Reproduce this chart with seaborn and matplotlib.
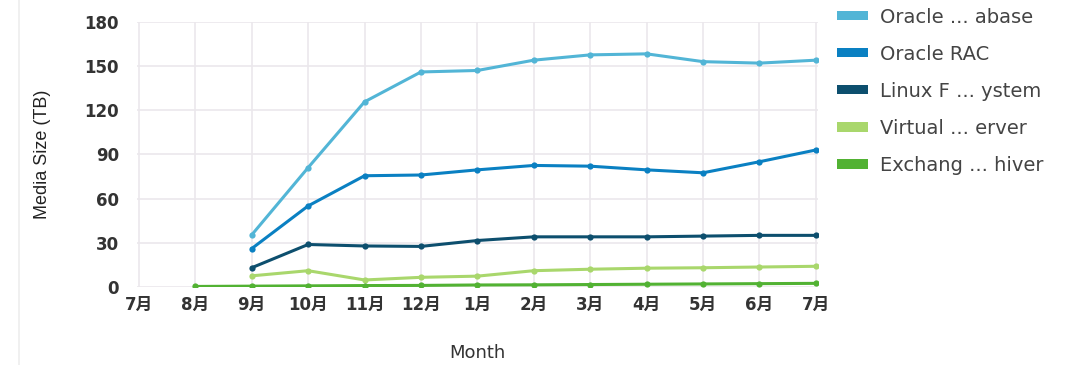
import numpy as np
import pandas as pd
import matplotlib
matplotlib.use("Agg")
import matplotlib.pyplot as plt
from matplotlib.patches import Patch
import seaborn as sns

months = ["7月", "8月", "9月", "10月", "11月", "12月", "1月", "2月", "3月", "4月", "5月", "6月", "7月"]
series_names = ["Oracle ... abase", "Oracle RAC", "Linux F ... ystem", "Virtual ... erver", "Exchang ... hiver"]
oracle_db = [np.nan, np.nan, 35.3, 81, 125.7, 146, 147, 154, 157.6, 158.3, 153, 152, 154]
oracle_rac = [np.nan, np.nan, 26, 55, 75.5, 76, 79.5, 82.5, 82, 79.5, 77.5, 85, 93]
linux_fs = [np.nan, np.nan, 13, 28.8, 27.8, 27.5, 31.5, 34, 34, 34, 34.5, 35, 35]
virtual = [np.nan, np.nan, 7.5, 11, 4.7, 6.5, 7.3, 11, 12, 12.7, 13, 13.5, 14]
exchange = [np.nan, 0.3, 0.5, 0.7, 0.9, 1.0, 1.3, 1.4, 1.6, 1.8, 2.0, 2.2, 2.4]
colors = ["#52b5d6", "#0a80c2", "#0d4f6e", "#a9d76c", "#52b233"]

all_vals = [oracle_db, oracle_rac, linux_fs, virtual, exchange]
rows = []
for name, vals in zip(series_names, all_vals):
    for i, v in enumerate(vals):
        rows.append({"idx": i, "value": v, "series": name})
df = pd.DataFrame(rows).dropna()

sns.set_theme(style="whitegrid")
plt.rcParams["font.family"] = ["DejaVu Sans", "Noto Sans CJK SC"]

fig = plt.figure(figsize=(10.8, 3.65), dpi=100)
ax = fig.add_axes([0.127, 0.214, 0.630, 0.726])

sns.lineplot(data=df, x="idx", y="value", hue="series", hue_order=series_names,
             palette=colors, marker="o", markersize=4.5, markeredgewidth=0,
             linewidth=2.2, ax=ax, legend=False, sort=True)

ax.set_xlim(-0.03, 12.03)
ax.set_ylim(0, 180)
ax.set_yticks([0, 30, 60, 90, 120, 150, 180])
ax.set_xticks(range(len(months)))
ax.set_xticklabels(months)
for lab in ax.get_xticklabels() + ax.get_yticklabels():
    lab.set_fontsize(12)
    lab.set_color("#333333")
    lab.set_fontweight("bold")
    lab.set_family(["DejaVu Sans", "Noto Sans CJK SC"])
ax.tick_params(axis="y", length=0, pad=13)
ax.tick_params(axis="x", length=0, pad=6.5)
ax.grid(True, color="#ebe8ec", linewidth=1.2)
for s in ax.spines.values():
    s.set_visible(False)

ax.set_xlabel("Month", fontsize=13, color="#333333", labelpad=22)
ax.set_ylabel("Media Size (TB)", fontsize=13, color="#222222", labelpad=24,
              family=["Liberation Sans"])

handles = [Patch(facecolor=c, edgecolor="none") for c in colors]
leg = fig.legend(handles, series_names, loc="upper left", bbox_to_anchor=(0.759, 1.027),
                 frameon=False, fontsize=14, handlelength=1.6, handleheight=0.36,
                 labelspacing=0.93, handletextpad=0.6)
for t in leg.get_texts():
    t.set_color("#444444")

fig.add_artist(plt.Line2D([0.018, 0.018], [0.0, 1.0], color="#eeeeee", linewidth=1.2))

fig.savefig("out.png", dpi=100)
